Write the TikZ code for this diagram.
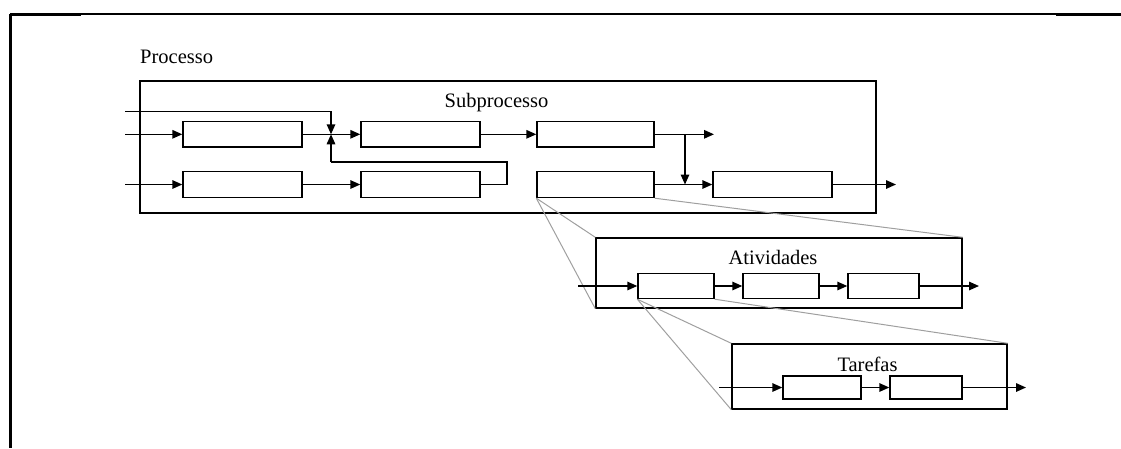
\documentclass[tikz,border=0pt]{standalone}
\usepackage{fontspec}
\setmainfont{Liberation Serif}
\usetikzlibrary{arrows.meta}
\begin{document}
\begin{tikzpicture}[x=1pt,y=-1pt,
  blk/.style={draw, line width=1.4pt, inner sep=0pt, fill=white},
  frame/.style={draw, line width=1.4pt, inner sep=0pt},
  conn/.style={line width=1.5pt},
  arr/.style={conn, -{Triangle[length=10pt,width=8.5pt]}},
  zoomline/.style={draw=gray!75, line width=1pt},
  lbl/.style={font=\fontsize{20.5}{24}\selectfont, inner sep=0pt, anchor=base}]
\useasboundingbox (0,0) rectangle (1121,448);

% page rule and left margin line
\draw[line width=1.3pt] (10,14) -- (1121,14);
\draw[line width=2.6pt] (10,14.6) -- (81,14.6);
\draw[line width=2.6pt] (1056,14.6) -- (1121,14.6);
\draw[line width=2.2pt] (10.5,13.5) -- (10.5,448);

% process level
\node[lbl, anchor=base west] (tproc) at (140,63) {Processo};
\node[frame, minimum width=736pt, minimum height=132pt] (proc) at (508,147) {};
\node[lbl] (tsub) at (496.5,107) {Subprocesso};

\node[blk, minimum width=119pt, minimum height=25.5pt] (a1) at (242.5,134.3) {};
\node[blk, minimum width=119pt, minimum height=25.5pt] (a2) at (420.5,134.3) {};
\node[blk, minimum width=117pt, minimum height=25.5pt] (a3) at (595.5,134.3) {};
\node[blk, minimum width=119pt, minimum height=26pt] (b1) at (242.5,184.5) {};
\node[blk, minimum width=119pt, minimum height=26pt] (b2) at (420.5,184.5) {};
\node[blk, minimum width=117pt, minimum height=26pt] (b3) at (595.5,184.5) {};
\node[blk, minimum width=119pt, minimum height=26pt] (b4) at (772.5,184.5) {};

\coordinate (in0) at (125,111.7);
\coordinate (in1) at (125,134.3);
\coordinate (in2) at (125,184.5);
\coordinate (j) at (331,134.3);
\coordinate (fb) at (507,162);
\coordinate (fbj) at (331,162);
\coordinate (out1) at (714,134.3);
\coordinate (split) at (685,134.3);
\coordinate (merge) at (685,184.5);
\coordinate (out2) at (896,184.5);

\draw[arr] (in1) -- (a1);
\draw[arr] (in2) -- (b1);
\draw[arr] (a1) -- (a2);
\draw[arr] (b1) -- (b2);
\draw[arr] (a2) -- (a3);
\draw[arr] (in0) -| (j);
\draw[conn] (b2.east) -| (fb) -- (fbj);
\draw[arr] (fbj) -- (j);
\draw[arr] (a3.east) -- (out1);
\draw[arr] (split) -- (merge);
\draw[arr] (b3) -- (b4);
\draw[arr] (b4) -- (out2);

% activity level
\node[frame, minimum width=366pt, minimum height=70pt] (act) at (779,273) {};
\draw[zoomline] (b3.south west) -- (act.north west);
\draw[zoomline] (b3.south west) -- (act.south west);
\draw[zoomline] (b3.south east) -- (act.north east);
\node[lbl] (tact) at (773,264) {Atividades};

\node[blk, minimum width=76pt, minimum height=25pt] (c1) at (676,286) {};
\node[blk, minimum width=76pt, minimum height=25pt] (c2) at (781,286) {};
\node[blk, minimum width=71pt, minimum height=25pt] (c3) at (883.5,286) {};
\coordinate (cin) at (578,286);
\coordinate (cout) at (979,286);
\draw[arr] (cin) -- (c1);
\draw[arr] (c1) -- (c2);
\draw[arr] (c2) -- (c3);
\draw[arr] (c3) -- (cout);

% task level
\node[frame, minimum width=275pt, minimum height=65pt] (tar) at (869.5,376.5) {};
\draw[zoomline] (c1.south west) -- (tar.north west);
\draw[zoomline] (c1.south west) -- (tar.south west);
\draw[zoomline] (c1.south east) -- (tar.north east);
\node[lbl] (ttar) at (867.5,371) {Tarefas};

\node[blk, minimum width=78pt, minimum height=23pt] (d1) at (822,387.5) {};
\node[blk, minimum width=72pt, minimum height=23pt] (d2) at (926,387.5) {};
\coordinate (din) at (719,387.5);
\coordinate (dout) at (1026,387.5);
\draw[arr] (din) -- (d1);
\draw[arr] (d1) -- (d2);
\draw[arr] (d2) -- (dout);
\end{tikzpicture}
\end{document}
